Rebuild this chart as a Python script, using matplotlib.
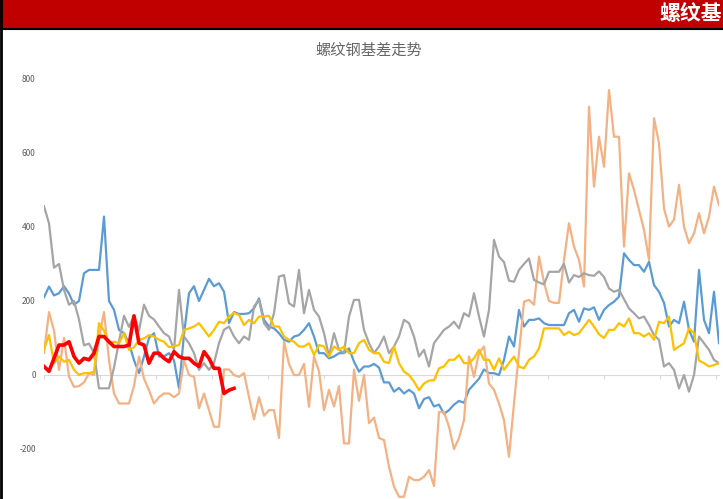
import numpy as np
import matplotlib
matplotlib.use("Agg")
from matplotlib import pyplot as plt
from matplotlib.patches import Rectangle
from matplotlib.lines import Line2D

# 1. 数据
gray_vals = [456, 410, 290, 300, 230, 190, 200, 150, 80, 85,
             60, -36, -36, -36, 20, 90, 160, 130, 160, 120,
             190, 160, 150, 131, 113, 104, 68, 230, 104, 86,
             59, 14, 32, 14, 32, 86, 122, 131, 104, 86,
             104, 95, 185, 203, 140, 122, 167, 266, 270, 194,
             185, 284, 167, 230, 176, 158, 113, 50, 113, 68,
             59, 158, 203, 203, 122, 86, 59, 77, 104, 59,
             77, 104, 149, 140, 104, 50, 68, 23, 86, 104,
             122, 131, 144, 126, 167, 158, 221, 158, 104, 176,
             365, 320, 305, 255, 252, 284, 300, 315, 257, 250,
             245, 279, 279, 279, 300, 250, 270, 265, 275, 270,
             268, 280, 265, 234, 225, 230, 205, 180, 167, 153,
             158, 135, 108, 95, 23, 32, 14, -36, 0, -45,
             0, 104, 86, 68, 41, 32]

blue_vals = [210, 239, 215, 221, 240, 220, 190, 200, 275, 284,
             284, 284, 428, 200, 176, 122, 113, 86, 40, 5,
             50, 100, 113, 50, 50, 59, 40, -36, 110, 221,
             240, 200, 230, 260, 240, 248, 225, 140, 170, 165,
             165, 167, 180, 207, 149, 131, 126, 113, 95, 90,
             104, 108, 122, 140, 104, 59, 59, 45, 50, 59,
             59, 72, 36, 9, 23, 23, 30, 20, -20, -20,
             -45, -35, -50, -40, -50, -90, -65, -60, -85, -80,
             -105, -95, -80, -70, -75, -40, -25, -10, 15, 5,
             5, 0, 41, 104, 77, 176, 131, 149, 149, 153,
             140, 135, 135, 135, 135, 167, 176, 144, 180, 176,
             183, 149, 176, 189, 198, 212, 329, 311, 297, 297,
             279, 306, 243, 225, 195, 131, 149, 140, 198, 122,
             90, 284, 149, 113, 225, 86]

orange_vals = [60, 170, 120, 14, 100, -5, -32, -30, -20, 5,
               0, 100, 170, 40, -50, -77, -77, -77, -30, 50,
               -10, -41, -77, -60, -50, -50, -60, -50, 40, 0,
               -5, -90, -50, -95, -140, -140, 15, 15, 0, -5,
               5, -60, -120, -60, -110, -95, -95, -170, 90, 30,
               0, 0, 30, -86, 50, 10, -95, -40, -85, -30,
               -185, -185, 15, -70, 0, -130, -115, -170, -176, -248,
               -302, -329, -329, -275, -284, -284, -275, -257, -300, -100,
               -100, -140, -200, -170, -122, 50, -5, 60, 77, -23,
               -40, -77, -122, -221, -77, 59, 198, 203, 190, 320,
               250, 200, 195, 195, 311, 410, 347, 311, 239, 725,
               509, 644, 563, 770, 644, 644, 347, 545, 500, 446,
               392, 311, 694, 626, 450, 401, 420, 514, 401, 356,
               383, 437, 383, 428, 509, 459]

yellow_vals = [70, 108, 32, 50, 36, 41, 14, 0, 5, 5,
               9, 140, 120, 86, 90, 86, 113, 68, 75, 95,
               99, 108, 104, 95, 90, 75, 78, 81, 122, 126,
               131, 140, 122, 104, 122, 144, 140, 158, 168, 162,
               135, 149, 140, 158, 158, 160, 131, 131, 104, 95,
               90, 77, 77, 86, 54, 81, 77, 50, 77, 68,
               77, 59, 59, 86, 95, 68, 59, 59, 36, 32,
               77, 32, 9, 0, -18, -41, -23, -15, -14, 18,
               23, 41, 41, 54, 32, 32, 45, 68, 41, 41,
               14, 45, 14, 32, 50, 23, 18, 41, 50, 72,
               126, 126, 126, 126, 108, 117, 108, 113, 131, 149,
               131, 110, 100, 122, 122, 140, 131, 153, 113, 113,
               104, 113, 95, 144, 140, 158, 68, 77, 86, 126,
               113, 39, 32, 23, 27, 32]

red_vals = [23, 10, 45, 81, 81, 90, 50, 32, 45, 41,
            59, 104, 104, 90, 77, 77, 77, 81, 160, 86,
            81, 32, 59, 59, 45, 36, 63, 50, 45, 45,
            32, 23, 63, 45, 18, 18, -50, -41, -36]

y_ticks = [-200, 0, 200, 400, 600, 800]

# 2. 字体
plt.rcParams['font.family'] = ['Noto Sans CJK SC', 'DejaVu Sans']
plt.rcParams['axes.unicode_minus'] = False

W, H = 723, 499
fig = plt.figure(figsize=(W / 100, H / 100), dpi=100)

# 顶部红色横幅 + 黑色边线
fig.patches.append(Rectangle((0, 1 - 28 / H), 1, 28 / H, transform=fig.transFigure,
                             facecolor='#C00000', edgecolor='none', zorder=0))
fig.lines.append(Line2D([0, 1], [1 - 29 / H, 1 - 29 / H], transform=fig.transFigure,
                        color='black', lw=1.5))
fig.lines.append(Line2D([1.2 / W, 1.2 / W], [0, 1], transform=fig.transFigure,
                        color='black', lw=2))
fig.text(722 / W, 1 - 14 / H, "螺纹基", color='white', fontsize=15,
         fontweight='bold', ha='right', va='center')

# 3. 图表区
ax = fig.add_axes([44 / W, 1 - 523 / H, 675 / W, 444 / H])
days = np.arange(len(gray_vals))
ax.plot(days, blue_vals, color='#5B9BD5', lw=1.6, zorder=2)
ax.plot(days, orange_vals, color='#F4B183', lw=1.6, zorder=3)
ax.plot(days, gray_vals, color='#A5A5A5', lw=1.6, zorder=4)
ax.plot(days, yellow_vals, color='#FFC000', lw=1.6, zorder=5)
ax.plot(np.arange(len(red_vals)), red_vals, color='#FF0000', lw=2.6, zorder=6)

ax.set_xlim(0, len(gray_vals) - 1)
ax.set_ylim(-400, 800)
ax.set_yticks(y_ticks)
ax.set_yticklabels([str(v) for v in y_ticks], fontsize=6, color='#595959')
ax.tick_params(axis='y', length=0, pad=6)

ax.set_xticks(np.arange(0, len(gray_vals), 11.2))
ax.set_xticklabels([])
ax.tick_params(axis='x', length=3, color='#D9D9D9', width=0.8)

for s in ['top', 'right', 'left']:
    ax.spines[s].set_visible(False)
ax.spines['bottom'].set_position(('data', 0))
ax.spines['bottom'].set_color('#D9D9D9')
ax.spines['bottom'].set_zorder(1)
ax.patch.set_alpha(0)

fig.text(369 / W, 1 - 50 / H, "螺纹钢基差走势", color='#666666', fontsize=11,
         ha='center', va='center')

fig.savefig('out.png', dpi=100)
